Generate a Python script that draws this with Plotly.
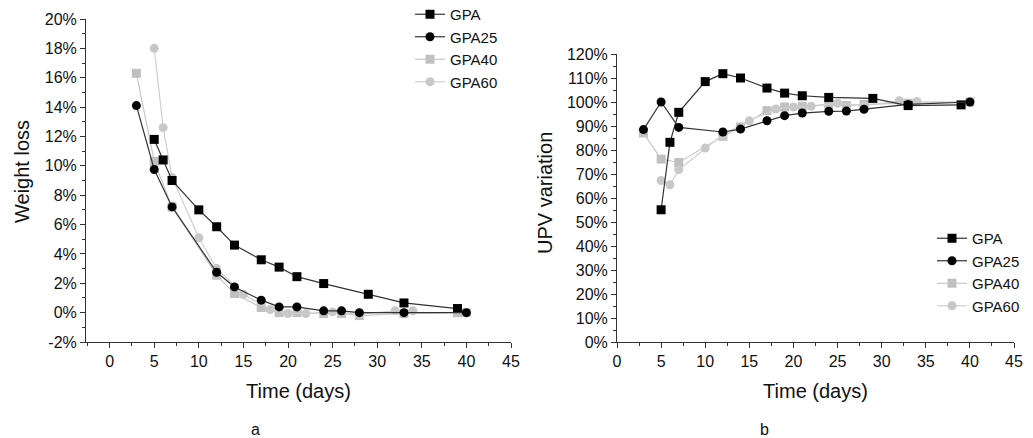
import plotly.graph_objects as go

# ---- Weight loss (panel a) ----
wl_gpa_days = [5, 6, 7, 10, 12, 14, 17, 19, 21, 24, 29, 33, 39]
wl_gpa = [11.8, 10.4, 9.0, 7.0, 5.85, 4.6, 3.6, 3.1, 2.45, 1.98, 1.25, 0.66, 0.28]

wl_gpa25_days = [3, 5, 7, 12, 14, 17, 19, 21, 24, 26, 28, 33, 40]
wl_gpa25 = [14.1, 9.75, 7.2, 2.75, 1.75, 0.85, 0.39, 0.39, 0.12, 0.12, 0.0, 0.0, 0.0]

wl_gpa40_days = [3, 5, 7, 12, 14, 17, 19, 21, 24, 26, 28, 33, 39, 40]
wl_gpa40 = [16.3, 10.3, 7.2, 2.55, 1.3, 0.35, 0.0, 0.0, -0.06, -0.06, -0.2, -0.06, 0.0, 0.0]

wl_gpa60_days = [5, 6, 7, 10, 12, 15, 18, 20, 22, 25, 28, 32, 34]
wl_gpa60 = [18.0, 12.6, 9.2, 5.1, 3.0, 1.25, 0.21, -0.06, -0.06, 0.05, -0.1, 0.12, 0.12]

# ---- UPV variation (panel b) ----
upv_gpa_days = [5, 6, 7, 10, 12, 14, 17, 19, 21, 24, 29, 33, 39]
upv_gpa = [55.1, 83.2, 95.7, 108.5, 111.8, 110.0, 105.8, 103.7, 102.6, 101.9, 101.5, 98.5, 98.8]

upv_gpa25_days = [3, 5, 7, 12, 14, 17, 19, 21, 24, 26, 28, 33, 40]
upv_gpa25 = [88.5, 100.0, 89.4, 87.5, 88.7, 92.2, 94.3, 95.4, 96.1, 96.2, 97.0, 99.0, 100.0]

upv_gpa40_days = [3, 5, 7, 12, 14, 17, 19, 21, 24, 26, 28, 33, 40]
upv_gpa40 = [87.1, 76.2, 74.8, 85.7, 89.6, 96.4, 97.9, 98.2, 98.9, 98.5, 99.0, 99.5, 100.0]

upv_gpa60_days = [5, 6, 7, 10, 12, 15, 18, 20, 22, 25, 28, 32, 34, 40]
upv_gpa60 = [67.3, 65.5, 71.8, 80.8, 86.4, 92.2, 97.1, 97.9, 98.2, 99.5, 98.5, 100.5, 100.2, 100.0]

# tick labels
wl_ticks = [-2, 0, 2, 4, 6, 8, 10, 12, 14, 16, 18, 20]
wl_tick_labels = ["-2%", "0%", "2%", "4%", "6%", "8%", "10%", "12%", "14%", "16%", "18%", "20%"]
upv_ticks = [0, 10, 20, 30, 40, 50, 60, 70, 80, 90, 100, 110, 120]
upv_tick_labels = ["0%", "10%", "20%", "30%", "40%", "50%", "60%", "70%", "80%",
                   "90%", "100%", "110%", "120%"]

series_names = ["GPA", "GPA25", "GPA40", "GPA60"]
marker_symbols = ["square", "circle", "square", "circle"]
marker_colors = ["#000000", "#000000", "#c0c0c0", "#c8c8c8"]
line_colors = ["#333333", "#333333", "#c8c8c8", "#d0d0d0"]

FONT = "Liberation Sans, Arial, sans-serif"

fig = go.Figure()

panel_a = [(wl_gpa_days, wl_gpa), (wl_gpa25_days, wl_gpa25),
           (wl_gpa40_days, wl_gpa40), (wl_gpa60_days, wl_gpa60)]
panel_b = [(upv_gpa_days, upv_gpa), (upv_gpa25_days, upv_gpa25),
           (upv_gpa40_days, upv_gpa40), (upv_gpa60_days, upv_gpa60)]

# grey series go down first so the black ones sit on top; legendrank keeps order
order = [2, 3, 0, 1]
for i in order:
    x, y = panel_a[i]
    fig.add_trace(go.Scatter(
        x=x, y=y, name=series_names[i], mode="lines+markers",
        xaxis="x", yaxis="y", legend="legend", legendrank=i + 1,
        line=dict(color=line_colors[i], width=1.2),
        marker=dict(symbol=marker_symbols[i], size=9, color=marker_colors[i]),
    ))
for i in order:
    x, y = panel_b[i]
    fig.add_trace(go.Scatter(
        x=x, y=y, name=series_names[i], mode="lines+markers",
        xaxis="x2", yaxis="y2", legend="legend2", legendrank=i + 1,
        line=dict(color=line_colors[i], width=1.2),
        marker=dict(symbol=marker_symbols[i], size=9, color=marker_colors[i]),
    ))

axis_common = dict(
    showline=True, linecolor="#333333", linewidth=1, mirror=False,
    showgrid=False, zeroline=False, ticks="outside", ticklen=5,
    tickcolor="#333333", tickfont=dict(family=FONT, size=16, color="#111111"),
)
minor_x = dict(ticks="outside", ticklen=3, tickcolor="#333333", dtick=2.5)

W, H = 1033, 438
fig.update_layout(
    width=W, height=H, margin=dict(l=0, r=0, t=0, b=0, autoexpand=False),
    paper_bgcolor="white", plot_bgcolor="white",
    font=dict(family=FONT, color="#111111"),
    xaxis=dict(domain=[86 / W, 511 / W], range=[-2.65, 45], dtick=5, tick0=0,
               minor=minor_x, anchor="y",
               title=dict(text="Time (days)", font=dict(size=20), standoff=14),
               **axis_common),
    yaxis=dict(domain=[1 - 342 / H, 1 - 19 / H], range=[-2, 20],
               tickmode="array", tickvals=wl_ticks, ticktext=wl_tick_labels,
               minor=dict(ticks="outside", ticklen=3, tickcolor="#333333", dtick=1),
               anchor="x", **axis_common),
    xaxis2=dict(domain=[617 / W, 1014 / W], range=[0, 45], dtick=5, tick0=0,
                minor=minor_x, anchor="y2",
                title=dict(text="Time (days)", font=dict(size=20), standoff=14),
                **axis_common),
    yaxis2=dict(domain=[1 - 342 / H, 1 - 54 / H], range=[0, 120],
                tickmode="array", tickvals=upv_ticks, ticktext=upv_tick_labels,
                minor=dict(ticks="outside", ticklen=3, tickcolor="#333333", dtick=5),
                anchor="x2", **axis_common),
    legend=dict(x=410 / W, y=1 + 2 / H, xanchor="left", yanchor="top",
                bgcolor="rgba(0,0,0,0)", font=dict(family=FONT, size=15),
                tracegroupgap=0, itemwidth=30),
    legend2=dict(x=932 / W, y=1 - 222 / H, xanchor="left", yanchor="top",
                 bgcolor="rgba(0,0,0,0)", font=dict(family=FONT, size=15),
                 tracegroupgap=0, itemwidth=30),
    showlegend=True,
    annotations=[
        # y-axis titles
        dict(text="Weight loss", x=22 / W, y=1 - 172 / H, xref="paper", yref="paper",
             xanchor="center", yanchor="middle", textangle=-90,
             showarrow=False, font=dict(family=FONT, size=20)),
        dict(text="UPV variation", x=545 / W, y=1 - 193 / H, xref="paper", yref="paper",
             xanchor="center", yanchor="middle", textangle=-90,
             showarrow=False, font=dict(family=FONT, size=20)),
        # panel letters
        dict(text="a", x=255 / W, y=1 - 429 / H, xref="paper", yref="paper",
             xanchor="center", yanchor="middle",
             showarrow=False, font=dict(family=FONT, size=16)),
        dict(text="b", x=764 / W, y=1 - 429 / H, xref="paper", yref="paper",
             xanchor="center", yanchor="middle",
             showarrow=False, font=dict(family=FONT, size=16)),
    ],
)

fig.write_html("out.html")
